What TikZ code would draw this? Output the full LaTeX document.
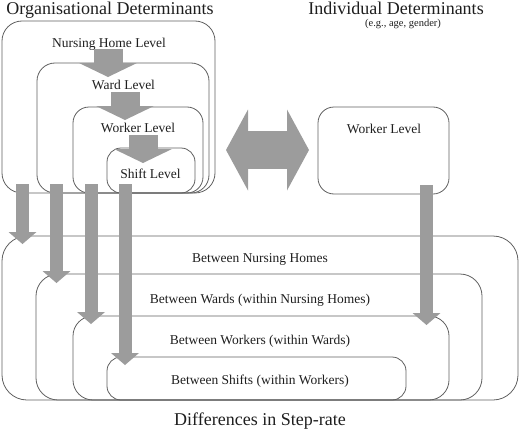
\documentclass[tikz,border=0pt]{standalone}
\usepackage{fontspec}
\setmainfont{Liberation Serif}
\usetikzlibrary{arrows.meta}
\definecolor{boxgray}{HTML}{606060}
\definecolor{arrowgray}{HTML}{9C9C9C}
\definecolor{textgray}{HTML}{1E1E1E}
\tikzset{
  levelbox/.style={draw=boxgray, line width=0.8pt, rounded corners=#1},
  levelbox/.default=18pt,
  lvltext/.style={font=\fontsize{13.5}{15}\selectfont, text=textgray, inner sep=0pt, anchor=base},
  headtext/.style={font=\fontsize{18}{20}\selectfont, text=textgray, inner sep=0pt, anchor=base},
  notetext/.style={font=\fontsize{10.5}{12}\selectfont, text=textgray, inner sep=0pt, anchor=base},
  bigflow/.style={draw=arrowgray, line width=29pt, -{Triangle[width=58pt,length=14pt,line width=0pt]}},
  flow/.style={draw=arrowgray, line width=13pt, -{Triangle[width=28pt,length=12pt,line width=0pt]}},
  twoway/.style={draw=arrowgray, line width=38pt, {Triangle[width=81pt,length=22pt,line width=0pt]}-{Triangle[width=81pt,length=22pt,line width=0pt]}}
}
\begin{document}
\begin{tikzpicture}[x=1pt,y=-1pt]
  \useasboundingbox (0,0) rectangle (520,431);
  % organisational side
  \draw[levelbox=20pt] (2,21) rectangle (215,193);
  \draw[levelbox] (37,63) rectangle (209,193);
  \draw[levelbox=16pt] (73,107) rectangle (203,193);
  \draw[levelbox=14pt] (107,148) rectangle (195,193);
  % individual side
  \draw[levelbox=16pt] (318,107) rectangle (449,194);
  % differences
  \draw[levelbox=25pt] (2,236) rectangle (518,400);
  \draw[levelbox=22pt] (36,274) rectangle (482,400);
  \draw[levelbox=20pt] (73,316) rectangle (449,400);
  \draw[levelbox=14pt] (107,357) rectangle (406,400);

  \node[headtext] (orgdet) at (110,14) {Organisational Determinants};
  \node[headtext] (inddet) at (396,14) {Individual Determinants};
  \node[notetext] (indnote) at (403,27) {(e.g., age, gender)};
  \node[lvltext] (nhlevel) at (109,47) {Nursing Home Level};
  \node[lvltext] (wardlevel) at (123.5,89) {Ward Level};
  \node[lvltext] (workerlevel) at (138,132) {Worker Level};
  \node[lvltext] (shiftlevel) at (150.5,178) {Shift Level};
  \node[lvltext] (indworker) at (384,133) {Worker Level};
  \node[lvltext] (betweennh) at (260,262) {Between Nursing Homes};
  \node[lvltext] (betweenward) at (260,303) {Between Wards (within Nursing Homes)};
  \node[lvltext] (betweenworker) at (260,344) {Between Workers (within Wards)};
  \node[lvltext] (betweenshift) at (260,384) {Between Shifts (within Workers)};
  \node[headtext] (steprate) at (260,425) {Differences in Step-rate};

  \coordinate (nhout) at (108,49);
  \coordinate (wardin) at (108,77);
  \coordinate (wardout) at (125,92);
  \coordinate (workerin) at (125,120);
  \coordinate (workerout) at (143,135);
  \coordinate (shiftin) at (143,163);
  \coordinate (orgleft) at (226,150);
  \coordinate (indright) at (309,150);
  \coordinate (nhfrom) at (22.5,184);
  \coordinate (nhto) at (22.5,244);
  \coordinate (wardfrom) at (56.5,184);
  \coordinate (wardto) at (56.5,283);
  \coordinate (workerfrom) at (91,184);
  \coordinate (workerto) at (91,324);
  \coordinate (shiftfrom) at (125,184);
  \coordinate (shiftto) at (125,365);
  \coordinate (indfrom) at (426.5,185);
  \coordinate (indto) at (426.5,325);

  \draw[bigflow] (nhout) -- (wardin);
  \draw[bigflow] (wardout) -- (workerin);
  \draw[bigflow] (workerout) -- (shiftin);
  \draw[twoway] (orgleft) -- (indright);
  \draw[flow] (nhfrom) -- (nhto);
  \draw[flow] (wardfrom) -- (wardto);
  \draw[flow] (workerfrom) -- (workerto);
  \draw[flow] (shiftfrom) -- (shiftto);
  \draw[flow] (indfrom) -- (indto);
\end{tikzpicture}
\end{document}
